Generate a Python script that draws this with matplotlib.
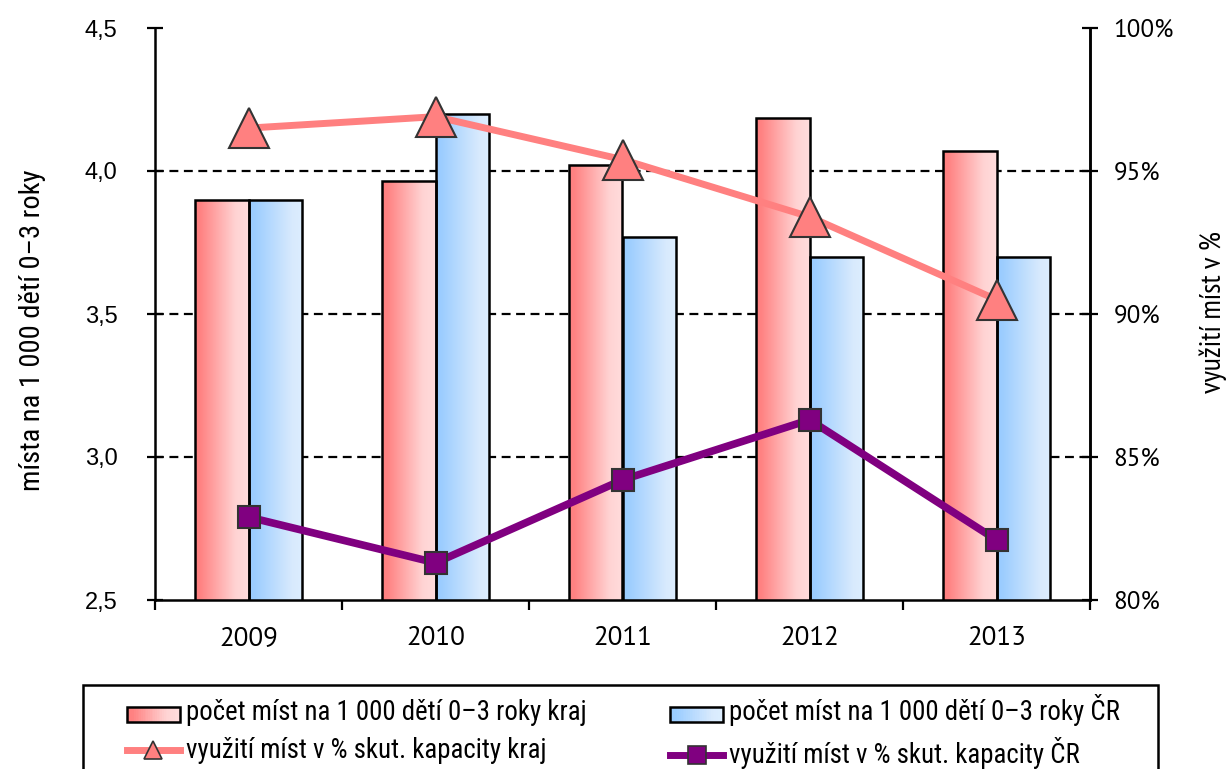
import numpy as np
import matplotlib
matplotlib.use("Agg")
import matplotlib.pyplot as plt
from matplotlib.colors import LinearSegmentedColormap
from matplotlib.patches import Rectangle
from matplotlib.lines import Line2D
from matplotlib.legend_handler import HandlerBase
from matplotlib.ticker import FuncFormatter, FixedLocator

# data
years = ["2009", "2010", "2011", "2012", "2013"]
mista_kraj = [3.90, 3.965, 4.02, 4.185, 4.07]
mista_cr = [3.90, 4.20, 3.77, 3.70, 3.70]
vyuziti_kraj = [96.5, 96.9, 95.4, 93.4, 90.5]
vyuziti_cr = [82.9, 81.3, 84.2, 86.3, 82.1]

label_kraj = "počet míst na 1 000 dětí 0–3 roky kraj"
label_cr = "počet míst na 1 000 dětí 0–3 roky ČR"
label_vk = "využití míst v % skut. kapacity kraj"
label_vc = "využití míst v % skut. kapacity ČR"

narrow = ["Roboto Condensed", "DejaVu Sans"]
arial = ["Liberation Sans", "DejaVu Sans"]
myriad = ["PT Sans", "DejaVu Sans"]
myriad_narrow = ["PT Sans Narrow", "DejaVu Sans"]

red_cmap = LinearSegmentedColormap.from_list(
    "red", [(0, "#FF8080"), (0.1, "#FF8282"), (0.75, "#FFD3D3"), (1, "#FFDCDC")])
blue_cmap = LinearSegmentedColormap.from_list(
    "blue", [(0, "#99CCFF"), (0.1, "#9CCDFF"), (0.8, "#D8EAFD"), (1, "#DDEEFF")])
grad = np.linspace(0, 1, 256).reshape(1, -1)

fig = plt.figure(figsize=(12.31, 7.69), dpi=100)
ax = fig.add_axes([155 / 1231, 1 - 600 / 769, 935 / 1231, 572 / 769])
ax2 = ax.twinx()

x = np.arange(len(years))
w = 0.285
bars1 = ax.bar(x - w / 2, mista_kraj, w, facecolor="none", edgecolor="black", linewidth=1.8, zorder=3)
bars2 = ax.bar(x + w / 2, mista_cr, w, facecolor="none", edgecolor="black", linewidth=1.8, zorder=3)

# gradient fill for bars (clipped to the bar and to the axes)
for bars, cmap in [(bars1, red_cmap), (bars2, blue_cmap)]:
    for b in bars:
        x0, y0 = b.get_x(), b.get_y()
        im = ax.imshow(grad, cmap=cmap, aspect="auto", zorder=2, interpolation="bilinear",
                       extent=[x0, x0 + b.get_width(), y0, y0 + b.get_height()])
        im.set_clip_path(b.get_path(), b.get_transform())

ax.set_xlim(-0.5, len(years) - 0.5)
ax.set_ylim(2.5, 4.5)
yticks = [2.5, 3.0, 3.5, 4.0, 4.5]
ax.set_yticks(yticks)
ax.yaxis.set_major_formatter(FuncFormatter(lambda v, p: f"{v:.1f}".replace(".", ",")))
for t in yticks[1:-1]:
    ax.axhline(t, color="black", lw=1.6, ls=(0, (4, 2.5)), zorder=1)

ax.set_xticks(x)
ax.set_xticklabels(years)
ax.xaxis.set_minor_locator(FixedLocator(np.arange(-0.5, len(years), 1)))
ax.tick_params(axis="x", which="major", length=0, pad=19, labelsize=19.5)
ax.tick_params(axis="x", which="minor", length=7, width=1.6, direction="out")
ax.tick_params(axis="y", length=12, width=1.6, direction="inout", labelsize=17, pad=21)
for lab in ax.get_xticklabels():
    lab.set_family(myriad)
for lab in ax.get_yticklabels():
    lab.set_family(arial)

ax2.plot(x, vyuziti_kraj, color="#FF8080", lw=5, marker="^", ms=29,
         mfc="#FF8080", mec="#333333", mew=1.5, zorder=4)
ax2.plot(x, vyuziti_cr, color="#800080", lw=5.5, marker="s", ms=16,
         mfc="#800080", mec="#333333", mew=1.5, zorder=5)
ax2.set_ylim(80, 100)
ax2.set_yticks([80, 85, 90, 95, 100])
ax2.yaxis.set_major_formatter(FuncFormatter(lambda v, p: f"{v:.0f}%"))
ax2.tick_params(axis="y", length=12, width=1.6, direction="inout", labelsize=18, pad=11)
for lab in ax2.get_yticklabels():
    lab.set_family(myriad)

for a in (ax, ax2):
    a.spines["top"].set_visible(False)
    for s in ("left", "right", "bottom"):
        a.spines[s].set_linewidth(1.8)
ax2.spines["left"].set_visible(False)
ax2.spines["bottom"].set_visible(False)

fig.text(33 / 1231, 1 - 330 / 769, "místa na 1 000 dětí 0–3 roky", rotation=90,
         ha="center", va="center", fontsize=20.5, family=narrow)
fig.text(1213 / 1231, 1 - 312 / 769, "využití míst v %", rotation=90,
         ha="center", va="center", fontsize=21.5, family=myriad_narrow)


class GradientHandler(HandlerBase):
    def __init__(self, cmap):
        super().__init__()
        self.cmap = cmap

    def create_artists(self, legend, orig, xd, yd, width, height, fontsize, trans):
        n = 30
        arts = []
        for i in range(n):
            r = Rectangle((xd + width * i / n, yd), width / n + 0.3, height,
                          facecolor=self.cmap(i / (n - 1)), edgecolor="none", transform=trans)
            arts.append(r)
        arts.append(Rectangle((xd, yd), width, height, facecolor="none",
                              edgecolor="black", lw=1.8, transform=trans))
        return arts


h1 = Rectangle((0, 0), 1, 1)
h2 = Rectangle((0, 0), 1, 1)
h3 = Line2D([], [], color="#FF8080", lw=5, marker="^", ms=13, mfc="#FF8080", mec="#333333", mew=1.2)
h4 = Line2D([], [], color="#800080", lw=5, marker="s", ms=13, mfc="#800080", mec="#333333", mew=1.2)

# legend frame drawn separately (it runs past the bottom edge)
fig.patches.append(Rectangle((83 / 1231, -0.05), 1075 / 1231, 0.05 + 1 - 685 / 769,
                             transform=fig.transFigure, facecolor="white", edgecolor="black",
                             lw=1.8, zorder=0))
leg = fig.legend([h1, h3, h2, h4], [label_kraj, label_vk, label_cr, label_vc],
                 handler_map={h1: GradientHandler(red_cmap), h2: GradientHandler(blue_cmap)},
                 loc="upper left", bbox_to_anchor=(127 / 1231, 1 - 694 / 769, 993 / 1231, 0),
                 mode="expand", ncol=2, frameon=False,
                 prop={"family": narrow, "size": 19.4}, handlelength=1.96, handleheight=0.5,
                 handletextpad=0.22, borderpad=0, labelspacing=0.42, borderaxespad=0)

fig.savefig("out.png", dpi=100)
